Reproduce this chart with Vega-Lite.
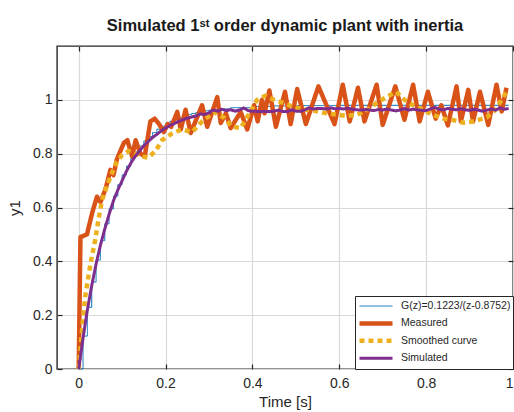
{
"$schema":"https://vega.github.io/schema/vega-lite/v6.json",
"width":456,"height":323,
"autosize":{"type":"none"},
"padding":{"left":57,"top":46,"right":1,"bottom":43},
"background":"white",
"title":{"text":"Simulated 1ˢᵗ order dynamic plant with inertia","font":"Liberation Sans","fontSize":16.5,"fontWeight":"bold","color":"#1a1a1a","anchor":"middle","offset":11},
"config":{
 "view":{"stroke":"#262626","strokeWidth":1.4},
 "axis":{"labelFont":"Liberation Sans","labelFontSize":14,"labelColor":"#262626","titleFont":"Liberation Sans","titleFontSize":15,"titleColor":"#262626","titleFontWeight":"normal","domain":false,"tickColor":"#262626","tickSize":-5,"tickWidth":1.2,"gridColor":"#d9d9d9","gridWidth":1.2},
 "legend":{"orient":"bottom-right","offset":0,"fillColor":"white","strokeColor":"#262626","padding":2,"cornerRadius":0,"labelFont":"Liberation Sans","labelFontSize":10.5,"labelColor":"#262626","symbolType":"stroke","symbolSize":1089,"clipHeight":16,"rowPadding":1.4,"labelOffset":6,"title":null}
},
"data":{"values":[
{"s":"G(z)=0.1223/(z-0.8752)","t":0,"y":0},
{"s":"G(z)=0.1223/(z-0.8752)","t":0.01,"y":0.1223},
{"s":"G(z)=0.1223/(z-0.8752)","t":0.02,"y":0.2293},
{"s":"G(z)=0.1223/(z-0.8752)","t":0.03,"y":0.323},
{"s":"G(z)=0.1223/(z-0.8752)","t":0.04,"y":0.405},
{"s":"G(z)=0.1223/(z-0.8752)","t":0.05,"y":0.4768},
{"s":"G(z)=0.1223/(z-0.8752)","t":0.06,"y":0.5396},
{"s":"G(z)=0.1223/(z-0.8752)","t":0.07,"y":0.5945},
{"s":"G(z)=0.1223/(z-0.8752)","t":0.08,"y":0.6426},
{"s":"G(z)=0.1223/(z-0.8752)","t":0.09,"y":0.6848},
{"s":"G(z)=0.1223/(z-0.8752)","t":0.1,"y":0.7216},
{"s":"G(z)=0.1223/(z-0.8752)","t":0.11,"y":0.7538},
{"s":"G(z)=0.1223/(z-0.8752)","t":0.12,"y":0.782},
{"s":"G(z)=0.1223/(z-0.8752)","t":0.13,"y":0.8068},
{"s":"G(z)=0.1223/(z-0.8752)","t":0.14,"y":0.8284},
{"s":"G(z)=0.1223/(z-0.8752)","t":0.15,"y":0.8473},
{"s":"G(z)=0.1223/(z-0.8752)","t":0.16,"y":0.8639},
{"s":"G(z)=0.1223/(z-0.8752)","t":0.17,"y":0.8784},
{"s":"G(z)=0.1223/(z-0.8752)","t":0.18,"y":0.891},
{"s":"G(z)=0.1223/(z-0.8752)","t":0.19,"y":0.9021},
{"s":"G(z)=0.1223/(z-0.8752)","t":0.2,"y":0.9118},
{"s":"G(z)=0.1223/(z-0.8752)","t":0.21,"y":0.9203},
{"s":"G(z)=0.1223/(z-0.8752)","t":0.22,"y":0.9278},
{"s":"G(z)=0.1223/(z-0.8752)","t":0.23,"y":0.9343},
{"s":"G(z)=0.1223/(z-0.8752)","t":0.24,"y":0.94},
{"s":"G(z)=0.1223/(z-0.8752)","t":0.25,"y":0.945},
{"s":"G(z)=0.1223/(z-0.8752)","t":0.26,"y":0.9494},
{"s":"G(z)=0.1223/(z-0.8752)","t":0.27,"y":0.9532},
{"s":"G(z)=0.1223/(z-0.8752)","t":0.28,"y":0.9565},
{"s":"G(z)=0.1223/(z-0.8752)","t":0.29,"y":0.9594},
{"s":"G(z)=0.1223/(z-0.8752)","t":0.3,"y":0.962},
{"s":"G(z)=0.1223/(z-0.8752)","t":0.32,"y":0.9662},
{"s":"G(z)=0.1223/(z-0.8752)","t":0.35,"y":0.9708},
{"s":"G(z)=0.1223/(z-0.8752)","t":0.4,"y":0.9752},
{"s":"G(z)=0.1223/(z-0.8752)","t":0.45,"y":0.9776},
{"s":"G(z)=0.1223/(z-0.8752)","t":0.5,"y":0.9787},
{"s":"G(z)=0.1223/(z-0.8752)","t":0.6,"y":0.9797},
{"s":"G(z)=0.1223/(z-0.8752)","t":0.99,"y":0.98},
{"s":"Measured","t":0,"y":0},
{"s":"Measured","t":0.004,"y":0.49},
{"s":"Measured","t":0.019,"y":0.5},
{"s":"Measured","t":0.031,"y":0.58},
{"s":"Measured","t":0.042,"y":0.64},
{"s":"Measured","t":0.05,"y":0.62},
{"s":"Measured","t":0.062,"y":0.67},
{"s":"Measured","t":0.073,"y":0.74},
{"s":"Measured","t":0.08,"y":0.72},
{"s":"Measured","t":0.088,"y":0.78},
{"s":"Measured","t":0.096,"y":0.81},
{"s":"Measured","t":0.104,"y":0.84},
{"s":"Measured","t":0.112,"y":0.85},
{"s":"Measured","t":0.123,"y":0.79},
{"s":"Measured","t":0.131,"y":0.85},
{"s":"Measured","t":0.142,"y":0.8},
{"s":"Measured","t":0.152,"y":0.79},
{"s":"Measured","t":0.165,"y":0.92},
{"s":"Measured","t":0.175,"y":0.93},
{"s":"Measured","t":0.185,"y":0.91},
{"s":"Measured","t":0.196,"y":0.88},
{"s":"Measured","t":0.205,"y":0.91},
{"s":"Measured","t":0.213,"y":0.9},
{"s":"Measured","t":0.227,"y":0.955},
{"s":"Measured","t":0.235,"y":0.89},
{"s":"Measured","t":0.246,"y":0.963},
{"s":"Measured","t":0.258,"y":0.877},
{"s":"Measured","t":0.284,"y":0.98},
{"s":"Measured","t":0.296,"y":0.9},
{"s":"Measured","t":0.319,"y":1.01},
{"s":"Measured","t":0.327,"y":0.914},
{"s":"Measured","t":0.339,"y":0.95},
{"s":"Measured","t":0.35,"y":0.895},
{"s":"Measured","t":0.373,"y":0.955},
{"s":"Measured","t":0.388,"y":0.89},
{"s":"Measured","t":0.404,"y":0.98},
{"s":"Measured","t":0.412,"y":0.92},
{"s":"Measured","t":0.422,"y":1.0},
{"s":"Measured","t":0.428,"y":0.95},
{"s":"Measured","t":0.439,"y":1.035},
{"s":"Measured","t":0.454,"y":0.9},
{"s":"Measured","t":0.475,"y":1.03},
{"s":"Measured","t":0.488,"y":0.91},
{"s":"Measured","t":0.503,"y":1.04},
{"s":"Measured","t":0.523,"y":0.91},
{"s":"Measured","t":0.552,"y":1.05},
{"s":"Measured","t":0.589,"y":0.91},
{"s":"Measured","t":0.608,"y":1.056},
{"s":"Measured","t":0.624,"y":0.92},
{"s":"Measured","t":0.643,"y":1.045},
{"s":"Measured","t":0.658,"y":0.92},
{"s":"Measured","t":0.686,"y":1.056},
{"s":"Measured","t":0.7,"y":0.907},
{"s":"Measured","t":0.729,"y":1.05},
{"s":"Measured","t":0.75,"y":0.926},
{"s":"Measured","t":0.77,"y":1.056},
{"s":"Measured","t":0.785,"y":0.92},
{"s":"Measured","t":0.804,"y":1.03},
{"s":"Measured","t":0.822,"y":0.93},
{"s":"Measured","t":0.835,"y":0.98},
{"s":"Measured","t":0.85,"y":0.905},
{"s":"Measured","t":0.87,"y":1.05},
{"s":"Measured","t":0.88,"y":0.92},
{"s":"Measured","t":0.897,"y":1.037},
{"s":"Measured","t":0.908,"y":0.92},
{"s":"Measured","t":0.924,"y":1.03},
{"s":"Measured","t":0.943,"y":0.907},
{"s":"Measured","t":0.962,"y":1.056},
{"s":"Measured","t":0.974,"y":0.957},
{"s":"Measured","t":0.985,"y":1.045},
{"s":"Smoothed curve","t":0,"y":0},
{"s":"Smoothed curve","t":0.008,"y":0.15},
{"s":"Smoothed curve","t":0.015,"y":0.27},
{"s":"Smoothed curve","t":0.027,"y":0.39},
{"s":"Smoothed curve","t":0.038,"y":0.48},
{"s":"Smoothed curve","t":0.046,"y":0.56},
{"s":"Smoothed curve","t":0.054,"y":0.63},
{"s":"Smoothed curve","t":0.065,"y":0.68},
{"s":"Smoothed curve","t":0.077,"y":0.73},
{"s":"Smoothed curve","t":0.088,"y":0.77},
{"s":"Smoothed curve","t":0.1,"y":0.795},
{"s":"Smoothed curve","t":0.115,"y":0.81},
{"s":"Smoothed curve","t":0.13,"y":0.8},
{"s":"Smoothed curve","t":0.145,"y":0.79},
{"s":"Smoothed curve","t":0.16,"y":0.785},
{"s":"Smoothed curve","t":0.177,"y":0.81},
{"s":"Smoothed curve","t":0.192,"y":0.85},
{"s":"Smoothed curve","t":0.215,"y":0.875},
{"s":"Smoothed curve","t":0.238,"y":0.89},
{"s":"Smoothed curve","t":0.261,"y":0.88},
{"s":"Smoothed curve","t":0.284,"y":0.92},
{"s":"Smoothed curve","t":0.312,"y":0.955},
{"s":"Smoothed curve","t":0.335,"y":0.933},
{"s":"Smoothed curve","t":0.353,"y":0.9},
{"s":"Smoothed curve","t":0.373,"y":0.895},
{"s":"Smoothed curve","t":0.393,"y":0.95},
{"s":"Smoothed curve","t":0.411,"y":1.0},
{"s":"Smoothed curve","t":0.43,"y":1.015},
{"s":"Smoothed curve","t":0.45,"y":1.0},
{"s":"Smoothed curve","t":0.469,"y":0.99},
{"s":"Smoothed curve","t":0.492,"y":0.975},
{"s":"Smoothed curve","t":0.515,"y":0.965},
{"s":"Smoothed curve","t":0.54,"y":0.96},
{"s":"Smoothed curve","t":0.57,"y":0.95},
{"s":"Smoothed curve","t":0.595,"y":0.945},
{"s":"Smoothed curve","t":0.616,"y":0.94},
{"s":"Smoothed curve","t":0.642,"y":0.945},
{"s":"Smoothed curve","t":0.665,"y":0.963},
{"s":"Smoothed curve","t":0.687,"y":0.99},
{"s":"Smoothed curve","t":0.708,"y":1.01},
{"s":"Smoothed curve","t":0.731,"y":1.03},
{"s":"Smoothed curve","t":0.75,"y":1.0},
{"s":"Smoothed curve","t":0.77,"y":0.98},
{"s":"Smoothed curve","t":0.79,"y":0.965},
{"s":"Smoothed curve","t":0.816,"y":0.944},
{"s":"Smoothed curve","t":0.84,"y":0.93},
{"s":"Smoothed curve","t":0.862,"y":0.925},
{"s":"Smoothed curve","t":0.885,"y":0.915},
{"s":"Smoothed curve","t":0.91,"y":0.92},
{"s":"Smoothed curve","t":0.94,"y":0.935},
{"s":"Smoothed curve","t":0.958,"y":0.96},
{"s":"Smoothed curve","t":0.974,"y":1.0},
{"s":"Smoothed curve","t":0.985,"y":1.03},
{"s":"Simulated","t":0,"y":0},
{"s":"Simulated","t":0.01,"y":0.115},
{"s":"Simulated","t":0.02,"y":0.22},
{"s":"Simulated","t":0.03,"y":0.31},
{"s":"Simulated","t":0.04,"y":0.39},
{"s":"Simulated","t":0.05,"y":0.46},
{"s":"Simulated","t":0.06,"y":0.52},
{"s":"Simulated","t":0.07,"y":0.575},
{"s":"Simulated","t":0.08,"y":0.625},
{"s":"Simulated","t":0.09,"y":0.665},
{"s":"Simulated","t":0.1,"y":0.7},
{"s":"Simulated","t":0.11,"y":0.735},
{"s":"Simulated","t":0.12,"y":0.765},
{"s":"Simulated","t":0.13,"y":0.79},
{"s":"Simulated","t":0.14,"y":0.81},
{"s":"Simulated","t":0.15,"y":0.83},
{"s":"Simulated","t":0.16,"y":0.845},
{"s":"Simulated","t":0.17,"y":0.86},
{"s":"Simulated","t":0.18,"y":0.872},
{"s":"Simulated","t":0.19,"y":0.885},
{"s":"Simulated","t":0.2,"y":0.895},
{"s":"Simulated","t":0.21,"y":0.905},
{"s":"Simulated","t":0.22,"y":0.912},
{"s":"Simulated","t":0.23,"y":0.92},
{"s":"Simulated","t":0.24,"y":0.926},
{"s":"Simulated","t":0.25,"y":0.932},
{"s":"Simulated","t":0.26,"y":0.936},
{"s":"Simulated","t":0.27,"y":0.94},
{"s":"Simulated","t":0.28,"y":0.948},
{"s":"Simulated","t":0.29,"y":0.945},
{"s":"Simulated","t":0.3,"y":0.952},
{"s":"Simulated","t":0.31,"y":0.962},
{"s":"Simulated","t":0.32,"y":0.958},
{"s":"Simulated","t":0.33,"y":0.965},
{"s":"Simulated","t":0.34,"y":0.96},
{"s":"Simulated","t":0.35,"y":0.963},
{"s":"Simulated","t":0.36,"y":0.958},
{"s":"Simulated","t":0.37,"y":0.962},
{"s":"Simulated","t":0.38,"y":0.97},
{"s":"Simulated","t":0.39,"y":0.96},
{"s":"Simulated","t":0.4,"y":0.958},
{"s":"Simulated","t":0.41,"y":0.957},
{"s":"Simulated","t":0.42,"y":0.957},
{"s":"Simulated","t":0.43,"y":0.957},
{"s":"Simulated","t":0.44,"y":0.956},
{"s":"Simulated","t":0.45,"y":0.958},
{"s":"Simulated","t":0.46,"y":0.962},
{"s":"Simulated","t":0.47,"y":0.957},
{"s":"Simulated","t":0.48,"y":0.956},
{"s":"Simulated","t":0.49,"y":0.963},
{"s":"Simulated","t":0.5,"y":0.958},
{"s":"Simulated","t":0.51,"y":0.957},
{"s":"Simulated","t":0.52,"y":0.962},
{"s":"Simulated","t":0.53,"y":0.97},
{"s":"Simulated","t":0.54,"y":0.966},
{"s":"Simulated","t":0.55,"y":0.968},
{"s":"Simulated","t":0.56,"y":0.968},
{"s":"Simulated","t":0.57,"y":0.966},
{"s":"Simulated","t":0.58,"y":0.97},
{"s":"Simulated","t":0.59,"y":0.967},
{"s":"Simulated","t":0.6,"y":0.968},
{"s":"Simulated","t":0.61,"y":0.966},
{"s":"Simulated","t":0.62,"y":0.969},
{"s":"Simulated","t":0.63,"y":0.965},
{"s":"Simulated","t":0.64,"y":0.963},
{"s":"Simulated","t":0.65,"y":0.962},
{"s":"Simulated","t":0.66,"y":0.964},
{"s":"Simulated","t":0.67,"y":0.962},
{"s":"Simulated","t":0.68,"y":0.96},
{"s":"Simulated","t":0.69,"y":0.964},
{"s":"Simulated","t":0.7,"y":0.962},
{"s":"Simulated","t":0.71,"y":0.966},
{"s":"Simulated","t":0.72,"y":0.962},
{"s":"Simulated","t":0.73,"y":0.959},
{"s":"Simulated","t":0.74,"y":0.962},
{"s":"Simulated","t":0.75,"y":0.968},
{"s":"Simulated","t":0.76,"y":0.962},
{"s":"Simulated","t":0.77,"y":0.965},
{"s":"Simulated","t":0.78,"y":0.963},
{"s":"Simulated","t":0.79,"y":0.961},
{"s":"Simulated","t":0.8,"y":0.96},
{"s":"Simulated","t":0.81,"y":0.966},
{"s":"Simulated","t":0.82,"y":0.972},
{"s":"Simulated","t":0.83,"y":0.965},
{"s":"Simulated","t":0.84,"y":0.963},
{"s":"Simulated","t":0.85,"y":0.968},
{"s":"Simulated","t":0.86,"y":0.965},
{"s":"Simulated","t":0.87,"y":0.963},
{"s":"Simulated","t":0.88,"y":0.967},
{"s":"Simulated","t":0.89,"y":0.963},
{"s":"Simulated","t":0.9,"y":0.961},
{"s":"Simulated","t":0.91,"y":0.965},
{"s":"Simulated","t":0.92,"y":0.962},
{"s":"Simulated","t":0.93,"y":0.958},
{"s":"Simulated","t":0.94,"y":0.962},
{"s":"Simulated","t":0.95,"y":0.966},
{"s":"Simulated","t":0.96,"y":0.962},
{"s":"Simulated","t":0.97,"y":0.97},
{"s":"Simulated","t":0.98,"y":0.965},
{"s":"Simulated","t":0.99,"y":0.968}
]},
"encoding":{
 "color":{"field":"s","type":"nominal","title":null,"scale":{"domain":["G(z)=0.1223/(z-0.8752)","Measured","Smoothed curve","Simulated"],"range":["#0072BD","#D95319","#EDB120","#7E2F8E"]}},
 "strokeWidth":{"field":"s","type":"nominal","title":null,"scale":{"type":"ordinal","domain":["G(z)=0.1223/(z-0.8752)","Measured","Smoothed curve","Simulated"],"range":[1,4.5,4.5,3]}},
 "strokeDash":{"field":"s","type":"nominal","title":null,"scale":{"domain":["G(z)=0.1223/(z-0.8752)","Measured","Smoothed curve","Simulated"],"range":[[1,0],[1,0],[5,4],[1,0]]}}
},
"layer":[
 {"transform":[{"filter":{"field":"s","equal":"G(z)=0.1223/(z-0.8752)"}}],
  "mark":{"type":"line","interpolate":"step-after"},
  "encoding":{
   "x":{"field":"t","type":"quantitative","scale":{"domain":[-0.05,1],"nice":false,"zero":false},"axis":{"orient":"bottom","title":"Time [s]","values":[0,0.2,0.4,0.6,0.8,1],"format":"~g","labelPadding":12,"titlePadding":4,"grid":true}},
   "y":{"field":"y","type":"quantitative","scale":{"domain":[0,1.2],"nice":false,"zero":false},"axis":{"orient":"left","title":"y1","values":[0,0.2,0.4,0.6,0.8,1],"format":"~g","labelPadding":10,"titlePadding":10,"grid":true}}
  }},
 {"transform":[{"filter":{"field":"s","equal":"Measured"}}],
  "mark":{"type":"line","strokeJoin":"round"},
  "encoding":{
   "x":{"field":"t","type":"quantitative","axis":null},
   "y":{"field":"y","type":"quantitative","axis":null}
  }},
 {"transform":[{"filter":{"field":"s","equal":"Smoothed curve"}}],
  "mark":{"type":"line","strokeCap":"butt"},
  "encoding":{
   "x":{"field":"t","type":"quantitative","axis":null},
   "y":{"field":"y","type":"quantitative","axis":null}
  }},
 {"transform":[{"filter":{"field":"s","equal":"Simulated"}}],
  "mark":{"type":"line"},
  "encoding":{
   "x":{"field":"t","type":"quantitative","axis":{"orient":"top","labels":false,"title":null,"grid":false,"values":[0,0.2,0.4,0.6,0.8,1]}},
   "y":{"field":"y","type":"quantitative","axis":{"orient":"right","labels":false,"title":null,"grid":false,"values":[0,0.2,0.4,0.6,0.8,1]}}
  }}
],
"resolve":{"axis":{"x":"independent","y":"independent"}}
}
